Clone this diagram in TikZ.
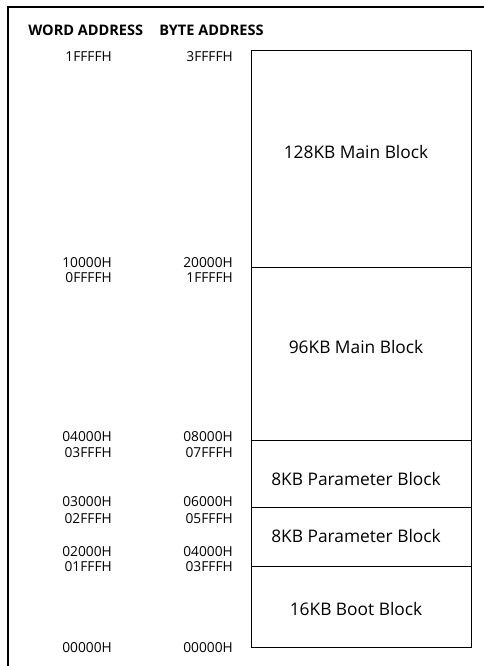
\documentclass[tikz,border=0pt]{standalone}
\usepackage{fontspec}
\setmainfont{Open Sans}
\begin{document}
\begin{tikzpicture}[x=0.75pt,y=-0.75pt,
  addr/.style={anchor=base east, inner sep=0pt, font=\fontsize{10.3}{11}\selectfont},
  hdr/.style={anchor=base west, inner sep=0pt, font=\fontsize{10.9}{11}\selectfont\bfseries},
  blk/.style={anchor=base, inner sep=0pt, font=\fontsize{13}{14}\selectfont}]
\useasboundingbox (0,0) rectangle (484,666);
% frame
\draw[line width=0.8pt] (8,666) -- (8,7) -- (484,7);
% headings
\node[hdr] (hw) at (28,36) {WORD ADDRESS};
\node[hdr] (hb) at (159,36) {BYTE ADDRESS};
% memory blocks
\draw[line width=0.7pt] (251,50) rectangle (471,647);
\foreach \y in {267,440,507,566}
  \draw[line width=0.5pt] (251,\y) -- (471,\y);
\node[blk] (b128) at (356,158.3) {128KB Main Block};
\node[blk] (b96) at (356,353.3) {96KB Main Block};
\node[blk] (p1) at (356,485) {8KB Parameter Block};
\node[blk] (p2) at (356,542.7) {8KB Parameter Block};
\node[blk] (boot) at (356,615) {16KB Boot Block};
% addresses
\foreach \w/\b/\y [count=\i] in {1FFFFH/3FFFFH/62, 10000H/20000H/267.7, 0FFFFH/1FFFFH/282.5,
    04000H/08000H/441.3, 03FFFH/07FFFH/457, 03000H/06000H/506.7, 02FFFH/05FFFH/523,
    02000H/04000H/556.7, 01FFFH/03FFFH/571.7, 00000H/00000H/652} {
  \node[addr] (w\i) at (112,\y) {\w};
  \node[addr] (a\i) at (233,\y) {\b};
}
\end{tikzpicture}
\end{document}
